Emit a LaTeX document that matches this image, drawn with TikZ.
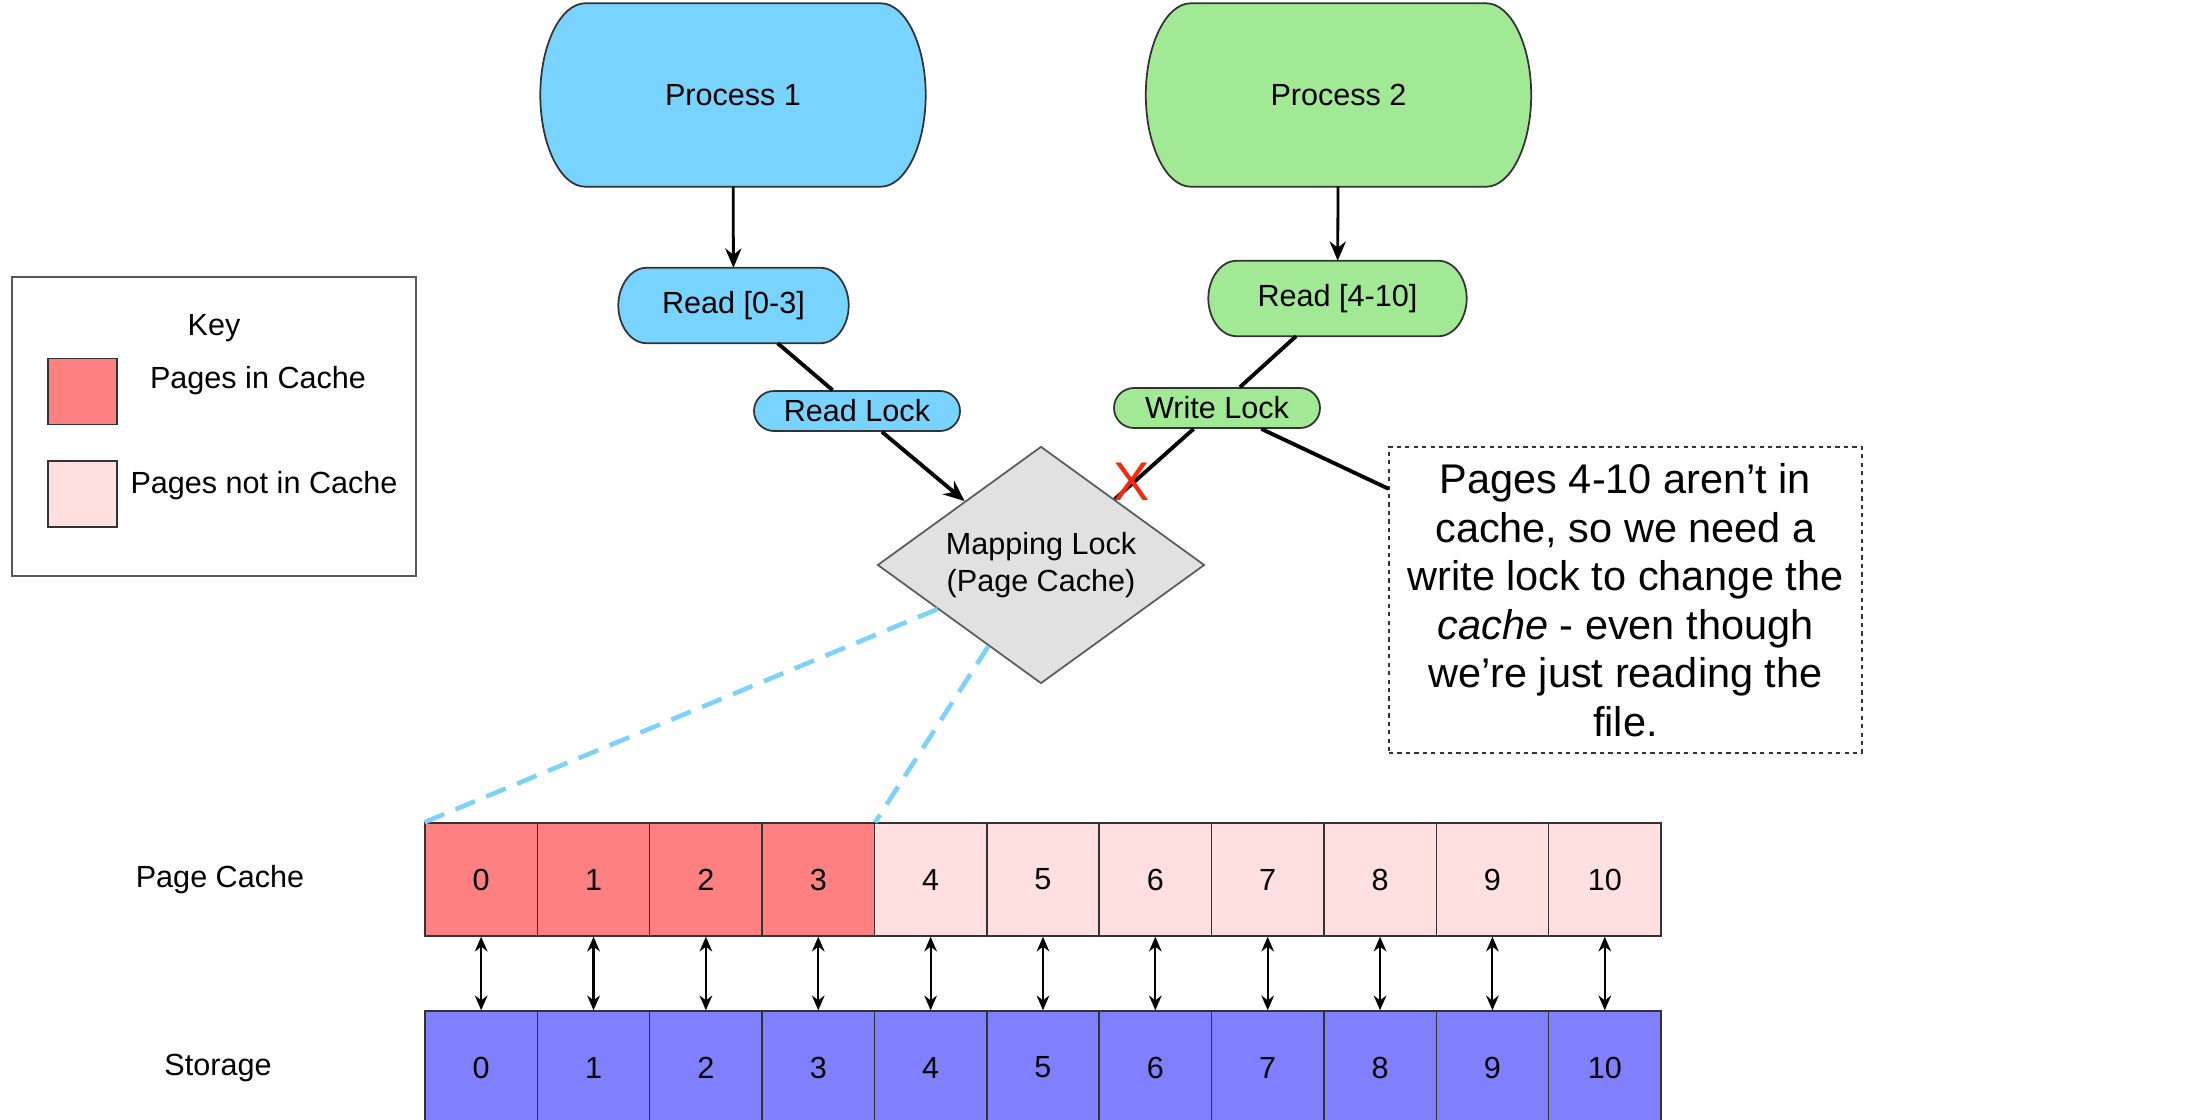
\documentclass[tikz,border=0pt]{standalone}
\usepackage{fontspec}
\setmainfont{Liberation Sans}
\usepackage{xcolor}
\definecolor{pcblue}{HTML}{78D4FE}
\definecolor{pcgreen}{HTML}{A1E994}
\definecolor{pcred}{HTML}{FF8080}
\definecolor{pcpink}{HTML}{FFDFDF}
\definecolor{pcstore}{HTML}{8080FF}
\definecolor{pcgray}{HTML}{E1E1E1}
\definecolor{pcline}{HTML}{333333}
\definecolor{pcdash}{HTML}{7CD2F8}
\definecolor{pcx}{HTML}{F52A0C}
\usepackage{tikz}
\usetikzlibrary{shapes.geometric,arrows.meta,positioning,calc,backgrounds}

% outline with bulging sides, drawn behind a named node
\newcommand{\roundside}[4]{%
  \begin{scope}[on background layer]
    \draw[draw=pcline, line width=0.5pt, fill=#4]
      ($(#1.north west)+(#2,0)$) -- ($(#1.north east)+(-#2,0)$)
      .. controls +(0.55*#2,0) and +(0,#3) .. (#1.east)
      .. controls +(0,-#3) and +(0.55*#2,0) .. ($(#1.south east)+(-#2,0)$)
      -- ($(#1.south west)+(#2,0)$)
      .. controls +(-0.55*#2,0) and +(0,-#3) .. (#1.west)
      .. controls +(0,#3) and +(-0.55*#2,0) .. cycle;
  \end{scope}}

\begin{document}
\begin{tikzpicture}[
  txt/.style={font=\fontsize{8.7pt}{10.4pt}\selectfont},
  proc/.style={minimum width=3.84cm, minimum height=1.82cm,
               inner sep=0pt, txt},
  rdbox/.style={minimum height=0.74cm, inner sep=0pt, txt},
  lockbox/.style={draw=pcline, line width=0.5pt, rounded corners=0.2cm,
                  minimum width=2.06cm, minimum height=0.40cm,
                  inner sep=1pt, txt},
  cell/.style={draw=pcline, line width=0.4pt, minimum width=1.1236cm,
               minimum height=1.13cm, inner sep=0pt, txt},
  keysq/.style={draw=pcline, line width=0.4pt, minimum width=0.69cm,
                minimum height=0.66cm, inner sep=0pt},
  conn/.style={draw=black, line width=1.1pt},
  arr/.style={draw=black, line width=0.8pt, -{Stealth[length=5.5pt,width=4.6pt]}},
  dbl/.style={draw=black, line width=0.6pt,
              {Stealth[length=4.2pt,width=3.6pt]}-{Stealth[length=4.2pt,width=3.6pt]}},
  zoomln/.style={draw=pcdash, line width=1.3pt, dash pattern=on 6pt off 3.5pt}
]
  \clip (0,0) rectangle (21.87,11.19);

  % key
  \node[draw=black!65, line width=0.5pt, minimum width=4.04cm,
        minimum height=2.99cm] (keybox) at (2.14,6.925) {};
  \node[txt] (keyttl) at (2.14,7.91) {Key};
  \node[keysq, fill=pcred] (keyin) at (0.825,7.275) {};
  \node[keysq, fill=pcpink] (keyout) at (0.825,6.25) {};
  \node[txt] (keyintxt) at (2.58,7.38) {Pages in Cache};
  \node[txt] (keyouttxt) at (2.64,6.33) {Pages not in Cache};

  % processes and requests
  \node[proc] (proc1) at (7.33,10.24) {Process 1};
  \node[proc] (proc2) at (13.385,10.24) {Process 2};
  \roundside{proc1}{0.45}{0.5}{pcblue}
  \roundside{proc2}{0.45}{0.5}{pcgreen}
  \node[rdbox, minimum width=2.29cm] (rd1) at (7.335,8.135) {Read [0-3]};
  \node[rdbox, minimum width=2.57cm] (rd2) at (13.375,8.205) {Read [4-10]};
  \roundside{rd1}{0.28}{0.2}{pcblue}
  \roundside{rd2}{0.28}{0.2}{pcgreen}

  \node[diamond, draw=pcline!80, line width=0.5pt, fill=pcgray, aspect=1.38,
        minimum width=3.27cm, minimum height=2.37cm, inner sep=0pt,
        align=center, txt] (map) at (10.41,5.54) {Mapping Lock\\(Page Cache)};

  \node[lockbox, fill=pcblue] (rlock) at (8.57,7.08) {Read Lock};
  \node[lockbox, fill=pcgreen] (wlock) at (12.17,7.11) {Write Lock};

  \node[draw=pcline, line width=0.4pt, dash pattern=on 1.2pt off 1.2pt,
        minimum width=4.73cm, minimum height=3.06cm, align=center,
        font=\fontsize{11.8pt}{13.8pt}\selectfont]
    (note) at (16.255,5.19)
    {Pages 4-10 aren’t in\\cache, so we need a\\write lock to change the\\
     \textit{cache} - even though\\we’re just reading the\\file.};

  \draw[arr] (proc1) -- (rd1);
  \draw[arr] (proc2) -- (rd2);
  \draw[conn] (rd1) -- (rlock);
  \draw[conn,-{Stealth[length=6pt,width=5pt]}] (rlock) -- (map);
  \draw[conn] (rd2) -- (wlock);
  \draw[conn] (wlock) -- (map);
  \draw[conn] (wlock) -- (note);
  \node[text=pcx, font=\fontsize{15.5pt}{16pt}\selectfont, inner sep=0pt]
    (xmark) at (11.32,6.37) {X};

  % page cache and storage rows
  \node[txt] (plabel) at (2.20,2.39) {Page Cache};
  \node[txt] (slabel) at (2.18,0.51) {Storage};
  \foreach \i in {0,...,10}{
    \ifnum\i<4 \def\cfill{pcred}\else \def\cfill{pcpink}\fi
    \node[cell, fill=\cfill] (c\i) at ({4.25+1.1236*(\i+0.5)},2.395) {\i};
    \node[cell, fill=pcstore] (s\i) at ({4.25+1.1236*(\i+0.5)},0.515) {\i};
    \draw[dbl] (c\i.south) -- (s\i.north);
  }

  \draw[zoomln] ($(map.west)!0.37!(map.south)$) -- (c0.north west);
  \draw[zoomln] ($(map.west)!0.68!(map.south)$) -- (c3.north east);
\end{tikzpicture}
\end{document}
